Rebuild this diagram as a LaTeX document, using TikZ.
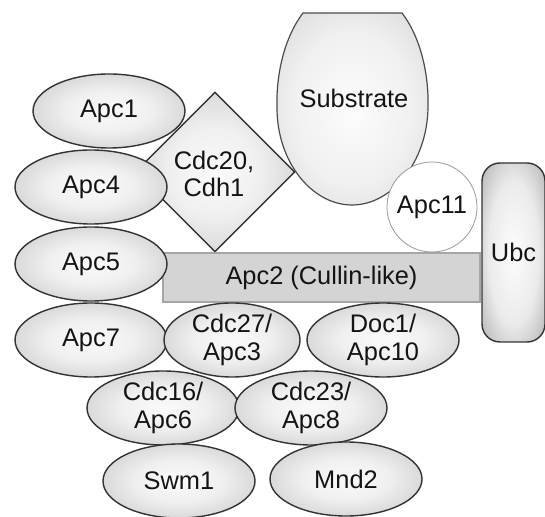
\documentclass[tikz,border=0pt]{standalone}
\usepackage{fontspec}
\setmainfont{Liberation Sans}
\usetikzlibrary{shapes.geometric}
\pgfdeclareradialshading{blobshade}{\pgfpoint{0bp}{0bp}}{color(0bp)=(black!2); color(14bp)=(black!6); color(32bp)=(black!20); color(44bp)=(black!33); color(50bp)=(black!45); color(72bp)=(black!45)}
\pgfdeclareradialshading{subshade}{\pgfpoint{0bp}{0bp}}{color(0bp)=(black!1); color(20bp)=(black!6); color(38bp)=(black!17); color(50bp)=(black!32); color(72bp)=(black!32)}
\pgfdeclareradialshading{ubcshade}{\pgfpoint{0bp}{0bp}}{color(0bp)=(black!1); color(20bp)=(black!8); color(36bp)=(black!30); color(50bp)=(black!58); color(72bp)=(black!58)}
\newcommand\lblfont{\fontsize{12.7}{13.6}\selectfont}
\tikzset{
  lbl/.style={font=\lblfont, text=black!92, align=center},
  blob/.style={ellipse, draw=black!80, line width=0.7pt, inner sep=0pt,
    shading=blobshade, minimum width=76pt, minimum height=37pt, lbl},
  dia/.style={diamond, draw=black!80, line width=0.7pt, inner sep=0pt,
    shading=blobshade, minimum width=80pt, minimum height=80pt, lbl},
  bar/.style={rectangle, draw=black!35, line width=0.6pt, fill=black!17,
    inner sep=0pt, minimum width=158.5pt, minimum height=24.5pt, lbl},
  ring/.style={circle, draw=black!40, line width=0.4pt, fill=white,
    inner sep=0pt, minimum size=45pt, lbl},
  ubcbox/.style={rectangle, rounded corners=9pt, draw=black!80, line width=0.7pt,
    shading=ubcshade, inner sep=0pt, minimum width=31.5pt, minimum height=89.5pt, lbl},
  subshape/.style={draw=black!70, line width=0.6pt, shading=subshade}
}
\begin{document}
\begin{tikzpicture}[x=0.5pt,y=-0.5pt]
\useasboundingbox[fill=white] (0,0) rectangle (545,517);
% Cdc20/Cdh1 diamond (behind Apc1, Apc4)
\node[dia] (cdc20) at (215,172) {};
% Substrate
\path[subshape] (303,13) -- (402,13)
  .. controls (421,38) and (429,75) .. (428,108)
  .. controls (427,162) and (392,205) .. (352,205)
  .. controls (312,205) and (277,162) .. (277,108)
  .. controls (276,75) and (284,38) .. (303,13) -- cycle;
\node[lbl] (substrate) at (354,98) {Substrate};
\node[lbl] (cdc20t) at (214,174) {Cdc20,\\Cdh1};
% left column
\node[blob] (apc1) at (109,111) {Apc1};
\node[blob] (apc4) at (91,187) {Apc4};
% Apc2 bar
\node[bar] (apc2) at (321.5,277.5) {Apc2 (Cullin-like)};
\node[blob] (apc5) at (91,264) {Apc5};
% Apc11 and Ubc
\node[ring] (apc11) at (432,207) {Apc11};
\node[ubcbox] (ubc) at (513.5,252.5) {Ubc};
% lower rows
\node[blob] (apc7) at (91,340) {Apc7};
\node[blob, minimum width=68pt] (cdc27) at (232,340) {Cdc27/\\Apc3};
\node[blob] (doc1) at (383,340) {Doc1/\\Apc10};
\node[blob] (cdc16) at (163,408) {Cdc16/\\Apc6};
\node[blob] (cdc23) at (311,408) {Cdc23/\\Apc8};
\node[blob] (swm1) at (179,481) {Swm1};
\node[blob] (mnd2) at (346,479) {Mnd2};
\end{tikzpicture}
\end{document}
